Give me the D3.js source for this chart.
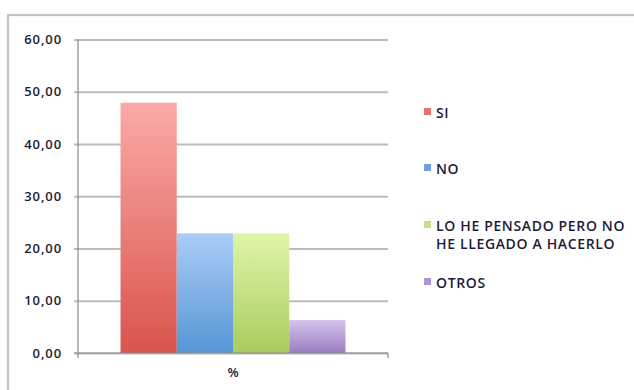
<!DOCTYPE html>
<html>
<head>
<meta charset="utf-8">
<script src="https://cdn.jsdelivr.net/npm/d3@7"></script>
<style>
  html, body { margin: 0; padding: 0; background: #fff; }
  svg { display: block; }
  text { font-family: "Open Sans", Lato, sans-serif; fill: #1c1c38; }
</style>
</head>
<body>
<svg id="chart" width="634" height="390"></svg>
<script>
// Survey answers, share of respondents (%)
const categories = ["SI", "NO", "LO HE PENSADO PERO NO HE LLEGADO A HACERLO", "OTROS"];
const legendLines = [["SI"], ["NO"], ["LO HE PENSADO PERO NO", "HE LLEGADO A HACERLO"], ["OTROS"]];
const values = [47.9, 22.9, 22.9, 6.3];
const groupLabel = "%";
const yTicks = [0, 10, 20, 30, 40, 50, 60];

// Gradient stops per series: [top, bottom]
const colors = [
  ["#fbaaa7", "#d9544c"],
  ["#acccf7", "#5596d5"],
  ["#e0f5a8", "#a9cc5e"],
  ["#d4c3ee", "#9a7dc0"]
];
const legendColors = ["#e8706b", "#6fa3e0", "#c3de88", "#ad94d2"];

const svg = d3.select("#chart");
const defs = svg.append("defs");

// Outer chart frame
svg.append("rect")
  .attr("x", 8).attr("y", 15)
  .attr("width", 640).attr("height", 400)
  .attr("fill", "none")
  .attr("stroke", "#c4c4c4")
  .attr("stroke-width", 2.2);

const plot = { left: 78, right: 388, top: 39.5, bottom: 353 };

const y = d3.scaleLinear().domain([0, 60]).range([plot.bottom, plot.top]);
const x0 = d3.scaleBand().domain([groupLabel]).range([plot.left, plot.right]).paddingInner(0).paddingOuter(0.189);
const x1 = d3.scaleBand().domain(categories).range([0, x0.bandwidth()]).padding(0);

// Horizontal gridlines with short tick stubs to the left of the axis
const yAxis = d3.axisLeft(y)
  .tickValues(yTicks)
  .tickSize(-(plot.right - plot.left))
  .tickPadding(16)
  .tickFormat(d => d3.format(".2f")(d).replace(".", ","));

const gy = svg.append("g")
  .attr("transform", `translate(${plot.left},0)`)
  .call(yAxis);
gy.select(".domain").remove();
gy.selectAll(".tick line")
  .attr("x1", -4)
  .attr("stroke", "#bcbcbc")
  .attr("stroke-width", 2);
gy.selectAll(".tick text")
  .attr("font-size", 13)
  .attr("font-weight", 600)
  .attr("letter-spacing", 0.9)
  .style("font-family", "'Open Sans', sans-serif")
  .attr("fill", "#1c1c38");

// Bars
const barsG = svg.append("g").attr("transform", `translate(${x0(groupLabel)},0)`);
categories.forEach((c, i) => {
  const g = defs.append("linearGradient")
    .attr("id", "grad" + i)
    .attr("x1", 0).attr("y1", 0).attr("x2", 0).attr("y2", 1);
  g.append("stop").attr("offset", "0%").attr("stop-color", colors[i][0]);
  g.append("stop").attr("offset", "100%").attr("stop-color", colors[i][1]);
});
barsG.selectAll("rect")
  .data(values)
  .join("rect")
  .attr("x", (d, i) => x1(categories[i]))
  .attr("y", d => y(d))
  .attr("width", x1.bandwidth())
  .attr("height", d => y(0) - y(d))
  .attr("fill", (d, i) => `url(#grad${i})`);

// Y axis line
svg.append("line")
  .attr("x1", plot.left).attr("x2", plot.left)
  .attr("y1", plot.top).attr("y2", plot.bottom)
  .attr("stroke", "#8a8a8a").attr("stroke-width", 1.2);

// X axis with end ticks
const xAxis = d3.axisBottom(x0).tickSize(0).tickPadding(15);
const gx = svg.append("g")
  .attr("transform", `translate(0,${plot.bottom})`)
  .call(xAxis);
gx.select(".domain").remove();
gx.append("line")
  .attr("x1", plot.left - 4).attr("x2", plot.right)
  .attr("stroke", "#8a8a8a").attr("stroke-width", 1.2);
[plot.left, plot.right].forEach(px => {
  gx.append("line")
    .attr("x1", px).attr("x2", px).attr("y1", 0).attr("y2", 5)
    .attr("stroke", "#8a8a8a").attr("stroke-width", 1.2);
});
gx.selectAll(".tick text")
  .attr("font-size", 13)
  .attr("font-weight", 600)
  .style("font-family", "'Open Sans', sans-serif")
  .attr("fill", "#1c1c38");

// Legend: swatch plus one text element per line
const legendBaseline = [118, 174, 231, 288];
const lineGap = 18;
const lg = svg.append("g");
legendLines.forEach((lines, i) => {
  lg.append("rect")
    .attr("x", 424).attr("y", legendBaseline[i] - 10)
    .attr("width", 7).attr("height", 7)
    .attr("fill", legendColors[i]);
  lines.forEach((ln, j) => {
    lg.append("text")
      .attr("x", 436).attr("y", legendBaseline[i] + j * lineGap)
      .attr("font-size", 14)
      .attr("letter-spacing", 0.65)
      .attr("font-weight", 600)
      .text(ln);
  });
});
</script>
</body>
</html>
